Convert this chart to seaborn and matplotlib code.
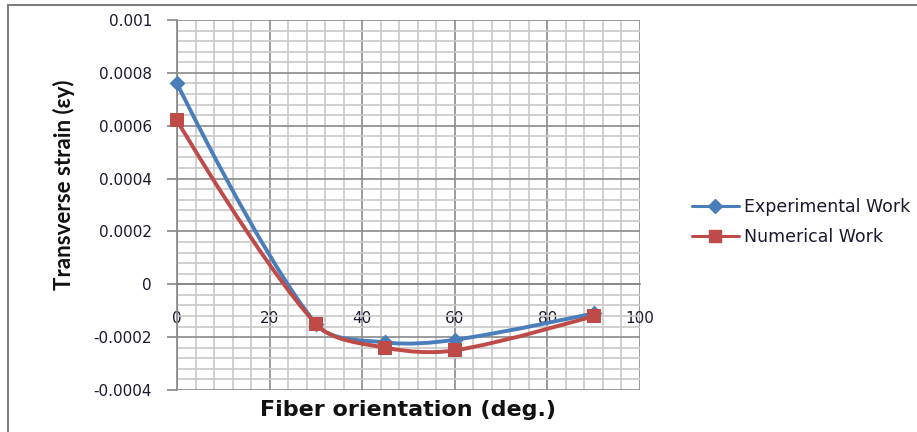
import numpy as np
import pandas as pd
import seaborn as sns
import matplotlib
matplotlib.use("Agg")
import matplotlib.pyplot as plt
from matplotlib.path import Path
from matplotlib.patches import PathPatch
from matplotlib.lines import Line2D
from matplotlib.ticker import MultipleLocator

# ---- data ----
angles = [0, 30, 45, 60, 90]
experimental = [0.00076, -0.00015, -0.00022, -0.00021, -0.00011]
numerical = [0.00062, -0.00015, -0.00024, -0.00025, -0.00012]
series_names = ["Experimental Work", "Numerical Work"]
x_ticks = [0, 20, 40, 60, 80, 100]
y_ticks = [-0.0004, -0.0002, 0, 0.0002, 0.0004, 0.0006, 0.0008, 0.001]
y_tick_labels = ["-0.0004", "-0.0002", "0", "0.0002", "0.0004", "0.0006", "0.0008", "0.001"]
x_label = "Fiber orientation (deg.)"
y_label = "Transverse strain (εy)"

df = pd.DataFrame({
    "angle": angles * 2,
    "strain": experimental + numerical,
    "series": [series_names[0]] * len(angles) + [series_names[1]] * len(angles),
})

sns.set_theme(style="white")
plt.rcParams["font.family"] = ["DejaVu Sans"]

colors = {series_names[0]: "#4a7ebb", series_names[1]: "#be4b48"}
markers = {series_names[0]: "D", series_names[1]: "s"}
msizes = {series_names[0]: 65, series_names[1]: 110}

fig = plt.figure(figsize=(9.17, 4.32), dpi=100)
ax = fig.add_axes([177 / 917, 1 - 390 / 432, (640 - 177) / 917, (390 - 20) / 432])

ax.set_xlim(0, 100)
ax.set_ylim(-0.0004, 0.001)

# grid
ax.xaxis.set_minor_locator(MultipleLocator(4))
ax.yaxis.set_minor_locator(MultipleLocator(0.00004))
ax.set_xticks(x_ticks)
ax.set_yticks(y_ticks)
ax.set_yticklabels(y_tick_labels)
ax.grid(which="minor", color="#c8c8c8", linewidth=1.2, zorder=0)
ax.grid(which="major", color="#8a8a8a", linewidth=1.2, zorder=0)
ax.set_axisbelow(True)

for s in ["top", "right"]:
    ax.spines[s].set_visible(False)
ax.spines["left"].set_color("#868686")
ax.spines["left"].set_linewidth(1.2)
ax.spines["bottom"].set_position(("data", 0))
ax.spines["bottom"].set_color("#868686")
ax.spines["bottom"].set_linewidth(1.2)

fig.canvas.draw()
to_px = ax.transData
to_data = ax.transData.inverted()


def smooth_path(xs, ys, t=1.0 / 3.0):
    # Excel-like smoothing computed in pixel space, distance-weighted tangents
    pts = to_px.transform(np.column_stack([xs, ys]).astype(float))
    n = len(pts)
    tang_out = []
    tang_in = []
    for i in range(n):
        if i == 0 or i == n - 1:
            tang_out.append(np.zeros(2))
            tang_in.append(np.zeros(2))
            continue
        d = pts[i + 1] - pts[i - 1]
        l0 = np.linalg.norm(pts[i] - pts[i - 1])
        l1 = np.linalg.norm(pts[i + 1] - pts[i])
        tang_out.append(d * t * l1 / (l0 + l1))
        tang_in.append(d * t * l0 / (l0 + l1))
    verts = [pts[0]]
    codes = [Path.MOVETO]
    for i in range(n - 1):
        c1 = pts[i] + tang_out[i]
        c2 = pts[i + 1] - tang_in[i + 1]
        verts += [c1, c2, pts[i + 1]]
        codes += [Path.CURVE4] * 3
    return Path(to_data.transform(np.array(verts)), codes)


for name, vals in zip(series_names, [experimental, numerical]):
    patch = PathPatch(smooth_path(angles, vals), facecolor="none",
                      edgecolor=colors[name], linewidth=2.8, zorder=3,
                      capstyle="round", joinstyle="round")
    ax.add_patch(patch)

for name in series_names:
    sub = df[df["series"] == name]
    sns.scatterplot(data=sub, x="angle", y="strain", ax=ax, color=colors[name],
                    marker=markers[name], s=msizes[name], edgecolor=colors[name],
                    linewidth=0, zorder=4, legend=False, clip_on=False)

ax.set_xlabel("")
ax.set_ylabel("")

ax.tick_params(axis="y", which="major", direction="out", length=7, width=1.2,
               color="#868686", pad=11, labelsize=11, labelcolor="#1a1a2e", left=True)
ax.tick_params(axis="y", which="minor", length=0)
ax.tick_params(axis="x", which="both", length=0, pad=19, labelsize=11,
               labelcolor="#1a1a2e")

fig.text(64 / 917, 1 - 185 / 432, y_label, rotation=90, ha="center", va="center",
         fontsize=16, fontweight="bold", color="#111111", family=["Lato", "DejaVu Sans"])
fig.text(408 / 917, 1 - 410 / 432, x_label, ha="center", va="center",
         fontsize=16, fontweight="bold", color="#111111", family=["DejaVu Sans"])

handles = [Line2D([0], [0], color=colors[n], linewidth=2.2, marker=markers[n],
                  markersize=7 if n == series_names[0] else 9,
                  markerfacecolor=colors[n], markeredgecolor=colors[n]) for n in series_names]
fig.legend(handles, series_names, loc="center left",
           bbox_to_anchor=(676 / 917, 1 - 222 / 432), frameon=False, fontsize=12.5,
           handlelength=2.7, handletextpad=0.3, labelspacing=0.7, labelcolor="#1a1a2e")

# outer chart border (top and left)
fig.add_artist(Line2D([8 / 917, 8 / 917], [0, 1 - 5 / 432], transform=fig.transFigure,
                      color="#7f7f7f", linewidth=1.5))
fig.add_artist(Line2D([8 / 917, 1], [1 - 5 / 432, 1 - 5 / 432], transform=fig.transFigure,
                      color="#7f7f7f", linewidth=1.5))

fig.savefig("out.png", dpi=100, facecolor="white")
